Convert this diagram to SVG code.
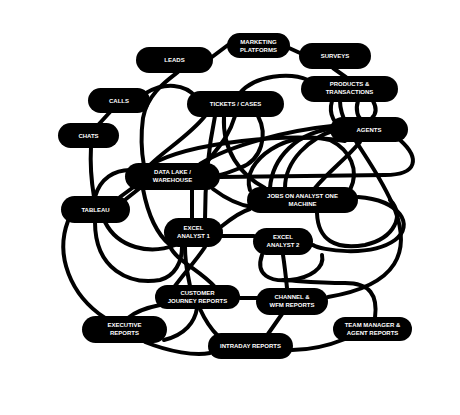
<svg xmlns="http://www.w3.org/2000/svg" width="460" height="415" viewBox="0 0 460 415">
<style>
.e path{fill:none;stroke:#000;stroke-width:4;stroke-linecap:round}
.n rect{fill:#000}
.n text{fill:#fff;font-family:"Liberation Sans",Arial,sans-serif;font-weight:bold;font-size:6px;text-anchor:middle}
</style>
<rect width="460" height="415" fill="#fff"/>
<g id="connectors" class="e">
<path d="M212,57 L228,45"/>
<path d="M289,48 L300,53"/>
<path d="M333,68 L347,78"/>
<path d="M178,72 C165,82 147,95 143,118 C140,140 142,155 144,166"/>
<path d="M146,93 C165,82 185,84 196,97"/>
<path d="M110,112 L99,124"/>
<path d="M91,147 C90,165 92,185 94,197"/>
<path d="M240,93 C255,75 290,72 308,80"/>
<path d="M205,116 C190,135 165,150 150,165"/>
<path d="M215,116 C208,150 205,190 205,220"/>
<path d="M224,116 C222,150 240,175 265,188"/>
<path d="M258,116 C268,135 262,160 240,168 C230,172 225,174 220,175"/>
<path d="M235,116 C228,140 215,150 205,165"/>
<path d="M332,101 C328,115 335,125 345,130"/>
<path d="M373,101 C378,110 375,115 372,118"/>
<path d="M358,101 C355,110 358,118 362,120"/>
<path d="M270,188 C272,160 295,130 340,128"/>
<path d="M400,140 C420,158 418,175 385,175 C330,176 260,176 220,177"/>
<path d="M150,165 C190,142 290,132 345,141"/>
<path d="M200,164 C230,145 290,130 332,126"/>
<path d="M285,188 C285,160 310,138 335,130"/>
<path d="M340,101 C340,130 375,160 395,210 C410,250 400,285 328,297"/>
<path d="M360,142 C345,160 330,170 315,188"/>
<path d="M250,190 C240,160 290,128 330,140 C350,150 360,170 350,190"/>
<path d="M358,197 C400,200 415,225 395,240 C370,258 320,250 313,245"/>
<path d="M317,213 C318,240 335,250 365,245 C395,238 405,215 390,200"/>
<path d="M120,197 L135,186"/>
<path d="M126,199 L140,188"/>
<path d="M95,197 C100,178 115,170 130,170"/>
<path d="M68,221 C55,255 70,295 105,318"/>
<path d="M95,222 C95,270 130,285 160,280 C175,276 182,262 182,247"/>
<path d="M105,222 C118,248 150,255 175,245"/>
<path d="M143,189 C148,215 158,235 170,245"/>
<path d="M192,189 L192,218"/>
<path d="M213,189 C225,198 238,205 252,207"/>
<path d="M222,226 C232,218 240,212 250,209"/>
<path d="M222,236 L254,236"/>
<path d="M185,247 C185,265 188,275 190,286"/>
<path d="M170,246 C175,260 200,270 215,287"/>
<path d="M205,247 C195,262 185,272 175,286"/>
<path d="M160,305 C145,308 135,312 128,318"/>
<path d="M164,340 C185,335 195,322 197,308"/>
<path d="M145,342 C170,352 195,356 210,353"/>
<path d="M200,309 C205,320 210,328 218,336"/>
<path d="M240,298 L257,298"/>
<path d="M282,314 L268,334"/>
<path d="M292,350 C310,350 330,345 345,339"/>
<path d="M375,318 C378,295 370,283 345,283 C320,283 300,281 283,280"/>
<path d="M283,255 C285,268 286,278 287,288"/>
<path d="M262,255 C255,275 270,282 290,280 C310,278 325,268 322,255"/>
</g>
<g id="leads" class="n"><rect x="136" y="47" width="77" height="26" rx="13"/><text x="174.5" y="62">LEADS</text></g>
<g id="marketing" class="n"><rect x="227" y="33" width="63" height="25" rx="12.5"/><text x="258.5" y="43.5">MARKETING</text><text x="258.5" y="51.5">PLATFORMS</text></g>
<g id="surveys" class="n"><rect x="299" y="43" width="72" height="26" rx="13"/><text x="335" y="58">SURVEYS</text></g>
<g id="products" class="n"><rect x="301" y="76" width="97" height="26" rx="13"/><text x="349.5" y="86">PRODUCTS &amp;</text><text x="349.5" y="94">TRANSACTIONS</text></g>
<g id="tickets" class="n"><rect x="187" y="91" width="97" height="26" rx="13"/><text x="235.5" y="106">TICKETS / CASES</text></g>
<g id="calls" class="n"><rect x="88" y="88" width="62" height="25" rx="12.5"/><text x="119" y="102.5">CALLS</text></g>
<g id="chats" class="n"><rect x="58" y="123" width="61" height="25" rx="12.5"/><text x="88.5" y="137.5">CHATS</text></g>
<g id="agents" class="n"><rect x="330" y="117" width="78" height="25" rx="12.5"/><text x="369" y="131.5">AGENTS</text></g>
<g id="datalake" class="n"><rect x="125" y="163" width="95" height="27" rx="13.5"/><text x="172.5" y="174">DATA LAKE /</text><text x="172.5" y="182">WAREHOUSE</text></g>
<g id="tableau" class="n"><rect x="61" y="196" width="69" height="27" rx="13.5"/><text x="95.5" y="211.5">TABLEAU</text></g>
<g id="excel1" class="n"><rect x="164" y="218" width="59" height="29" rx="14.5"/><text x="193.5" y="230">EXCEL</text><text x="193.5" y="238">ANALYST 1</text></g>
<g id="jobs" class="n"><rect x="247" y="187" width="111" height="26" rx="13"/><text x="302.5" y="197.5">JOBS ON ANALYST ONE</text><text x="302.5" y="205.5">MACHINE</text></g>
<g id="excel2" class="n"><rect x="253" y="228" width="60" height="27" rx="13.5"/><text x="283" y="239">EXCEL</text><text x="283" y="247">ANALYST 2</text></g>
<g id="cjr" class="n"><rect x="155" y="285" width="85" height="24" rx="12"/><text x="197.5" y="295">CUSTOMER</text><text x="197.5" y="303">JOURNEY REPORTS</text></g>
<g id="executive" class="n"><rect x="82" y="316" width="85" height="27" rx="13.5"/><text x="124.5" y="327">EXECUTIVE</text><text x="124.5" y="335">REPORTS</text></g>
<g id="intraday" class="n"><rect x="208" y="333" width="85" height="26" rx="13"/><text x="250.5" y="348">INTRADAY REPORTS</text></g>
<g id="channel" class="n"><rect x="256" y="288" width="72" height="27" rx="13.5"/><text x="292" y="299">CHANNEL &amp;</text><text x="292" y="307">WFM REPORTS</text></g>
<g id="team" class="n"><rect x="333" y="317" width="79" height="24" rx="12"/><text x="372.5" y="327">TEAM MANAGER &amp;</text><text x="372.5" y="335">AGENT REPORTS</text></g>
</svg>
